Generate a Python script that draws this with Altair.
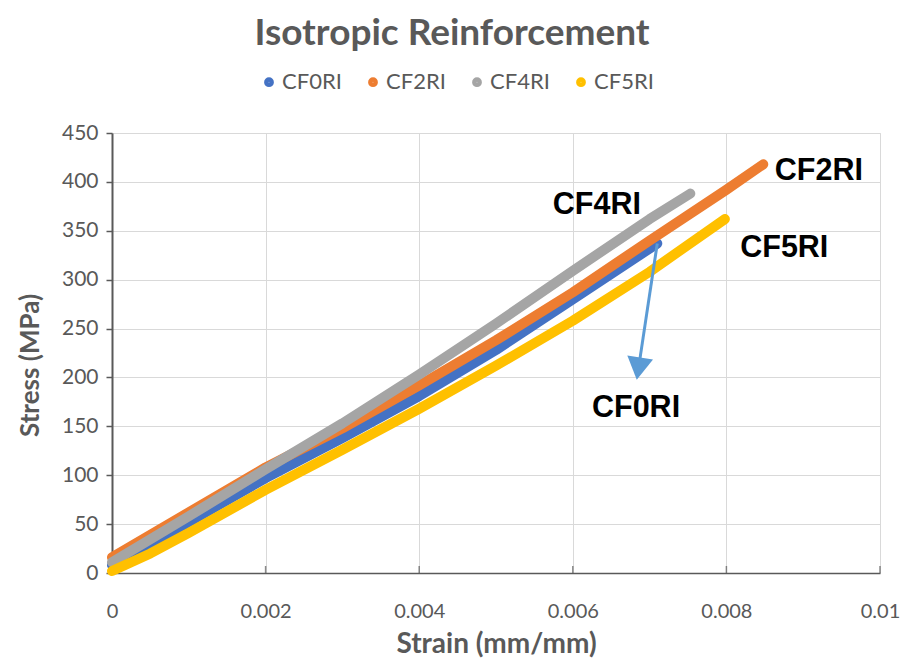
import altair as alt
import pandas as pd

series_names = ["CF0RI", "CF2RI", "CF4RI", "CF5RI"]
series_colors = ["#4472C4", "#ED7D31", "#A5A5A5", "#FFC000"]

strain_cf0 = [0, 0.001, 0.002, 0.003, 0.004, 0.005, 0.006, 0.0071]
stress_cf0 = [8, 52, 97, 138, 181, 228, 280, 337]

strain_cf2 = [0, 0.001, 0.002, 0.003, 0.004, 0.005, 0.006, 0.007, 0.008, 0.00848]
stress_cf2 = [16, 62, 108, 148, 192, 238, 287, 340, 392, 418]

strain_cf4 = [0, 0.001, 0.002, 0.003, 0.004, 0.005, 0.006, 0.007, 0.00753]
stress_cf4 = [11, 58, 106, 153, 203, 255, 309, 362, 388]

strain_cf5 = [0, 0.0005, 0.001, 0.002, 0.003, 0.004, 0.005, 0.006, 0.007, 0.00798]
stress_cf5 = [2, 20, 41, 85, 126, 168, 212, 258, 308, 362]

x_ticks = [0, 0.002, 0.004, 0.006, 0.008, 0.01]
y_ticks = [0, 50, 100, 150, 200, 250, 300, 350, 400, 450]

# annotation labels (data-anchored)
ann_text = ["CF2RI", "CF4RI", "CF5RI", "CF0RI"]
ann_x = [0.00863, 0.00574, 0.00818, 0.00625]
ann_y = [411, 376, 332, 169]

# arrow from end of CF0RI down to its label
arrow_x = [0.0071]
arrow_y = [337]
arrow_x2 = [0.006855]
arrow_y2 = [209]

rows = []
for name, xs, ys in zip(series_names,
                        [strain_cf0, strain_cf2, strain_cf4, strain_cf5],
                        [stress_cf0, stress_cf2, stress_cf4, stress_cf5]):
    for i, (a, b) in enumerate(zip(xs, ys)):
        rows.append({"series": name, "strain": a, "stress": b, "idx": i})
df = pd.DataFrame(rows)

xscale = alt.Scale(domain=[0, 0.01], nice=False)
yscale = alt.Scale(domain=[0, 450], nice=False)

FONT = "Lato"
GRAY = "#595959"

lines = alt.Chart(df).mark_line(strokeWidth=10, strokeCap="round", strokeJoin="round").encode(
    x=alt.X("strain:Q", scale=xscale,
            axis=alt.Axis(values=x_ticks, format=".3~f", title="Strain (mm/mm)",
                          grid=True, gridColor="#D9D9D9", ticks=False, labelFlush=False,
                          domainColor=GRAY, domainWidth=1.5,
                          labelFont=FONT, labelFontSize=20, labelColor=GRAY, labelPadding=28,
                          titleFont=FONT, titleFontSize=28, titleFontWeight="bold", titleColor=GRAY,
                          titlePadding=9)),
    y=alt.Y("stress:Q", scale=yscale,
            axis=alt.Axis(values=y_ticks, title="Stress (MPa)",
                          grid=True, gridColor="#D9D9D9", ticks=True, tickSize=6,
                          tickColor=GRAY, tickWidth=1.5,
                          domainColor=GRAY, domainWidth=2,
                          labelFont=FONT, labelFontSize=21, labelColor=GRAY, labelPadding=8,
                          titleFont=FONT, titleFontSize=26, titleFontWeight="bold", titleColor=GRAY,
                          titlePadding=18, titleY=232)),
    color=alt.Color("series:N", scale=alt.Scale(domain=series_names, range=series_colors),
                    legend=alt.Legend(title=None, orient="none", direction="horizontal",
                                      legendX=146, legendY=-62,
                                      symbolType="circle", symbolSize=28, symbolStrokeWidth=4.5,
                                      labelFont=FONT, labelFontSize=22, labelColor=GRAY,
                                      labelOffset=2, columnPadding=19, padding=0)),
    order="idx:Q",
)

xtick_df = pd.DataFrame({"x": x_ticks[1:]})
xticks = alt.Chart(xtick_df).mark_tick(orient="vertical", size=7, thickness=1.5,
                                       color=GRAY, yOffset=-3.5).encode(
    x=alt.X("x:Q", scale=xscale), y=alt.datum(0))

ann_df = pd.DataFrame({"t": ann_text, "x": ann_x, "y": ann_y})
ann = alt.Chart(ann_df).mark_text(font="Liberation Sans", fontWeight="bold", fontSize=30.5,
                                  color="#000000", align="left", baseline="middle").encode(
    x=alt.X("x:Q", scale=xscale), y=alt.Y("y:Q", scale=yscale), text="t:N")

arr_df = pd.DataFrame({"x": arrow_x, "y": arrow_y, "x2": arrow_x2, "y2": arrow_y2})
arrow_line = alt.Chart(arr_df).mark_rule(color="#5B9BD5", strokeWidth=3).encode(
    x=alt.X("x:Q", scale=xscale), y=alt.Y("y:Q", scale=yscale), x2="x2:Q", y2="y2:Q")
arrow_head = alt.Chart(arr_df).mark_point(shape="triangle-down", filled=True, size=676,
                                          color="#5B9BD5", opacity=1, angle=8.7).encode(
    x=alt.X("x2:Q", scale=xscale), y=alt.Y("y2:Q", scale=yscale))

chart = alt.layer(lines, xticks, arrow_line, arrow_head, ann).properties(
    width=768, height=440,
    title=alt.TitleParams("Isotropic Reinforcement", font=FONT, fontSize=37, fontWeight="bold",
                          color=GRAY, anchor="middle", frame="group", dx=-44, offset=18),
    autosize=alt.AutoSizeParams(type="none"),
    padding={"left": 104, "top": 125, "right": 20, "bottom": 85},
).configure_view(stroke=None).configure(background="white")

chart.save("out.html", embed_options={"renderer": "svg", "actions": False})
